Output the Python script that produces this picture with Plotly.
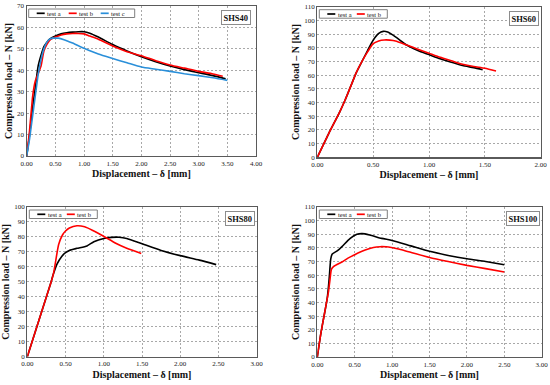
import plotly.graph_objects as go

# ---------------- data ----------------
shs40_a_x = [0, 0.05, 0.1, 0.15, 0.2, 0.25, 0.3, 0.35, 0.4, 0.5, 0.6, 0.7, 0.8, 0.9, 1.0, 1.1, 1.25, 1.5, 1.75, 2.0, 2.25, 2.5, 2.75, 3.0, 3.25, 3.47]
shs40_a_y = [0, 10, 22, 32, 42, 47, 51, 53, 54.5, 56, 57, 57.5, 57.8, 58, 58, 57.3, 55.5, 52, 49, 46.3, 44, 42, 40.3, 38.9, 37.5, 36]
shs40_b_x = [0, 0.05, 0.1, 0.12, 0.15, 0.2, 0.25, 0.3, 0.35, 0.4, 0.5, 0.6, 0.7, 0.8, 0.9, 1.0, 1.1, 1.25, 1.5, 1.75, 2.0, 2.25, 2.5, 2.75, 3.0, 3.25, 3.42]
shs40_b_y = [0, 12, 27, 31, 35, 38.5, 42, 49, 52, 54, 55.5, 56.5, 57, 57.2, 57.2, 57, 56, 54.5, 51.3, 48.7, 46.8, 44.5, 42.5, 41, 39.5, 38.3, 37.2]
shs40_c_x = [0, 0.05, 0.1, 0.15, 0.2, 0.25, 0.3, 0.35, 0.4, 0.45, 0.5, 0.55, 0.65, 0.8, 1.0, 1.25, 1.5, 1.75, 2.0, 2.25, 2.5, 2.75, 3.0, 3.25, 3.5]
shs40_c_y = [0, 8, 18, 28, 38, 45, 50, 53, 54.5, 55, 55, 55, 54.3, 52.7, 50.3, 47.6, 45.5, 43.5, 41.5, 40.5, 39.5, 38.4, 37.5, 36.5, 35.3]

shs60_a_x = [0, 0.1, 0.2, 0.25, 0.3, 0.35, 0.4, 0.45, 0.5, 0.55, 0.59, 0.63, 0.7, 0.8, 0.9, 1.0, 1.1, 1.2, 1.3, 1.4, 1.48]
shs60_a_y = [0, 17, 33, 42, 52, 62, 70, 78, 85.5, 90.5, 92, 91.5, 88, 82, 78, 75, 72, 69.5, 67, 65.5, 64]
shs60_b_x = [0, 0.1, 0.2, 0.25, 0.3, 0.35, 0.4, 0.45, 0.5, 0.55, 0.6, 0.65, 0.7, 0.8, 0.9, 1.0, 1.1, 1.2, 1.3, 1.4, 1.5, 1.6]
shs60_b_y = [0, 17, 33, 42, 52, 62, 70, 77, 83, 85, 85.7, 85.6, 85, 82, 79, 76, 73, 70.5, 68, 66.3, 65, 63]

shs80_a_x = [0, 0.1, 0.2, 0.3, 0.34, 0.39, 0.45, 0.5, 0.55, 0.65, 0.78, 0.87, 1.0, 1.1, 1.2, 1.3, 1.5, 1.75, 2.0, 2.25, 2.47]
shs80_a_y = [0, 16, 32, 48, 55, 62, 67, 69.5, 71, 72.4, 74, 76.8, 79, 79.7, 79.8, 79, 75.5, 71, 67.5, 64.5, 61.5]
shs80_b_x = [0, 0.1, 0.2, 0.3, 0.34, 0.37, 0.41, 0.46, 0.5, 0.55, 0.65, 0.75, 0.85, 1.02, 1.15, 1.3, 1.49]
shs80_b_y = [0, 16, 32, 48, 55, 63.5, 75, 81.3, 84, 86, 87.5, 86.8, 84.5, 79.8, 76, 72.5, 69]

shs100_a_x = [0, 0.05, 0.1, 0.13, 0.15, 0.165, 0.18, 0.2, 0.27, 0.33, 0.44, 0.53, 0.6, 0.7, 0.86, 1.0, 1.25, 1.5, 1.75, 2.0, 2.25, 2.5]
shs100_a_y = [0, 18, 33, 42, 52, 62, 72, 75.5, 78, 81, 87, 90, 90.5, 89.5, 87, 85.5, 81.5, 77.5, 74.5, 72, 70, 67.7]
shs100_b_x = [0, 0.05, 0.1, 0.13, 0.15, 0.17, 0.19, 0.22, 0.33, 0.41, 0.5, 0.64, 0.75, 0.84, 0.92, 0.99, 1.1, 1.22, 1.5, 1.75, 2.0, 2.25, 2.5]
shs100_b_y = [0, 18, 33, 42, 48, 57, 64.5, 66.5, 69.7, 72.5, 75, 78.4, 80.3, 80.9, 80.8, 80.3, 79, 77.2, 73, 70, 67.2, 64.8, 62.3]

panel_titles = ["SHS40", "SHS60", "SHS80", "SHS100"]
x_ranges = [[0, 4], [0, 2], [0, 3], [0, 3]]
y_ranges = [[0, 70], [0, 110], [0, 100], [0, 110]]
x_title = "Displacement \u2013 \u03b4 [mm]"
y_title = "Compression load \u2013 N [kN]"
series_names = ["test a", "test b", "test c"]

# ---------------- styling ----------------
W, H = 550, 385
COLORS = {"test a": "#000000", "test b": "#FF0000", "test c": "#2A8FD9"}
SERIF = "Liberation Serif, Times New Roman, serif"

# plot areas in screen pixels: (left, right, top, bottom)
areas = [(26.7, 256.0, 6.0, 156.0),
         (317.3, 540.7, 6.7, 157.3),
         (27.3, 256.7, 207.0, 356.7),
         (317.3, 541.7, 207.0, 357.0)]

panels = [
    [(shs40_a_x, shs40_a_y), (shs40_b_x, shs40_b_y), (shs40_c_x, shs40_c_y)],
    [(shs60_a_x, shs60_a_y), (shs60_b_x, shs60_b_y)],
    [(shs80_a_x, shs80_a_y), (shs80_b_x, shs80_b_y)],
    [(shs100_a_x, shs100_a_y), (shs100_b_x, shs100_b_y)],
]

fig = go.Figure()
layout = dict(
    width=W, height=H, margin=dict(l=0, r=0, t=0, b=0, pad=0, autoexpand=False),
    paper_bgcolor="white", plot_bgcolor="white", showlegend=False,
    font=dict(family=SERIF, color="#222222"),
)
shapes = []
annotations = []

for i, (area, series) in enumerate(zip(areas, panels)):
    l, r, t, b = area
    sfx = "" if i == 0 else str(i + 1)
    xa, ya = "x" + sfx, "y" + sfx
    layout["xaxis" + sfx] = dict(
        domain=[l / W, r / W], anchor=ya, range=x_ranges[i], automargin=False,
        dtick=0.5, tick0=0, tickformat=".2f",
        showgrid=True, gridcolor="#A8A8A8", griddash="2px,2px", gridwidth=1,
        zeroline=False, showline=True, mirror=True, linecolor="#5A5A5A", linewidth=1.2,
        ticks="", tickfont=dict(size=7, family=SERIF, color="#222"),
        title=dict(text="<b>" + x_title + "</b>", font=dict(size=10, family=SERIF, color="#111"), standoff=3),
    )
    layout["yaxis" + sfx] = dict(
        domain=[1 - b / H, 1 - t / H], anchor=xa, range=y_ranges[i], automargin=False,
        dtick=10, tick0=0,
        showgrid=True, gridcolor="#A8A8A8", griddash="2px,2px", gridwidth=1,
        zeroline=False, showline=True, mirror=True, linecolor="#5A5A5A", linewidth=1.2,
        ticks="", tickfont=dict(size=7, family=SERIF, color="#222"),
        title=dict(text="<b>" + y_title + "</b>", font=dict(size=10, family=SERIF, color="#111"), standoff=2),
    )
    for (sx, sy), name in zip(series, series_names):
        fig.add_trace(go.Scatter(
            x=sx, y=sy, mode="lines", name=name, xaxis=xa, yaxis=ya, hoverinfo="skip",
            line=dict(color=COLORS[name], width=1.6, shape="spline", smoothing=0.6),
        ))

    # manual compact legend (pixel offsets inside plot area)
    pw, ph = r - l, b - t
    n = len(series)
    spacing = 32 if n == 3 else 29.5
    box_w = 106 if n == 3 else 68
    xr, yr = xa + " domain", ya + " domain"
    shapes.append(dict(type="rect", xref=xr, yref=yr,
                       x0=2 / pw, x1=(2 + box_w) / pw, y0=1 - 11.5 / ph, y1=1 - 3 / ph,
                       line=dict(color="#7F7F7F", width=1), fillcolor="white", layer="above"))
    for k, name in enumerate(series_names[:n]):
        x0 = 10 + k * spacing
        shapes.append(dict(type="line", xref=xr, yref=yr,
                           x0=x0 / pw, x1=(x0 + 8) / pw, y0=1 - 7.3 / ph, y1=1 - 7.3 / ph,
                           line=dict(color=COLORS[name], width=1.7), layer="above"))
        annotations.append(dict(xref=xr, yref=yr, x=(x0 + 8.5) / pw, y=1 - 7.3 / ph,
                                text=name, showarrow=False, xanchor="left", yanchor="middle",
                                font=dict(size=6.5, family=SERIF, color="#111")))
    # panel title box
    rgap = 5 if i == 0 else 1.5
    annotations.append(dict(xref=xr, yref=yr, x=1 - rgap / pw, y=1 - 4 / ph,
                            text="<b>" + panel_titles[i] + "</b>", showarrow=False,
                            xanchor="right", yanchor="top",
                            font=dict(size=8.5, family=SERIF, color="#111"),
                            bordercolor="#8C8C8C", borderwidth=1, borderpad=1.5, bgcolor="white"))

layout["shapes"] = shapes
layout["annotations"] = annotations
layout["hovermode"] = False
fig.update_layout(**layout)
fig.write_html(
    "out.html",
    config={"displayModeBar": False, "staticPlot": True},
    post_script="document.body.style.margin='0';document.body.style.overflow='hidden';",
)
